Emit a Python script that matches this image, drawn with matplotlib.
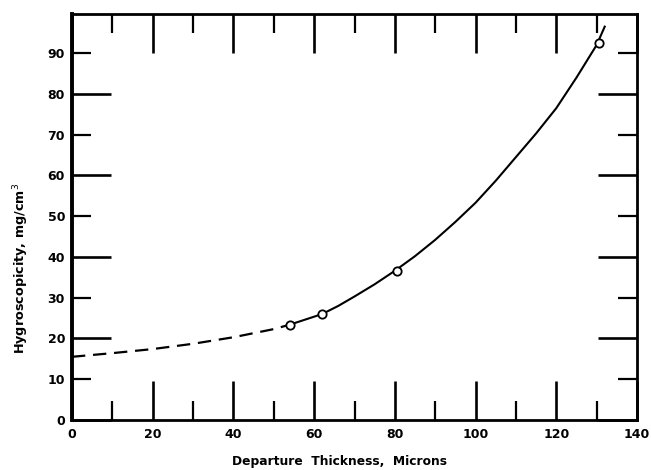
import numpy as np
import matplotlib
matplotlib.use("Agg")
import matplotlib.pyplot as plt

# measured points (open circles)
pt_x = [54, 62, 80.5, 130.5]
pt_y = [23.4, 26.0, 36.6, 92.5]

# fitted curve: dashed (extrapolated) part and solid part
dash_x = [0, 10, 20, 30, 40, 50, 54]
dash_y = [15.5, 16.4, 17.4, 18.7, 20.3, 22.3, 23.4]
solid_x = [54, 62, 66, 70, 75, 80, 85, 90, 95, 100, 105, 110, 115, 120, 125, 130, 132]
solid_y = [23.4, 26.0, 28.0, 30.3, 33.3, 36.6, 40.2, 44.2, 48.6, 53.3, 58.7, 64.5, 70.3, 76.5, 84.0, 92.0, 96.5]

x_major = [0, 20, 40, 60, 80, 100, 120, 140]
x_minor = [10, 30, 50, 70, 90, 110, 130]
y_major = [0, 20, 40, 60, 80]
y_minor = [10, 30, 50, 70, 90]

fig = plt.figure(figsize=(6.51, 4.70), dpi=100)
ax = fig.add_axes([0.1106, 0.1064, 0.8679, 0.8638])

ax.plot(dash_x, dash_y, color="black", lw=1.6, dashes=(6, 3.5))
ax.plot(solid_x, solid_y, color="black", lw=1.5)
ax.plot(pt_x, pt_y, "o", ms=6, mfc="white", mec="black", mew=1.3)

ax.set_xlim(0, 140)
ax.set_ylim(0, 99.6)

ax.set_xticks(x_major)
ax.set_xticks(x_minor, minor=True)
ax.set_yticks(y_major)
ax.set_yticks(y_minor, [str(v) for v in y_minor], minor=True)

for t in ax.get_xticklabels() + ax.get_yticklabels(which="both"):
    t.set_fontsize(9)
    t.set_fontweight("bold")

ax.tick_params(which="both", direction="in", top=True, right=True, color="black")
ax.tick_params(which="major", length=28, width=1.9)
ax.tick_params(which="minor", length=14, width=1.6)
ax.tick_params(axis="x", which="both", pad=6)
ax.tick_params(axis="y", which="both", pad=5)

for s in ax.spines.values():
    s.set_linewidth(2.0)
ax.spines["left"].set_linewidth(2.8)

ax.set_xlabel("Departure  Thickness,  Microns", fontsize=8.8, fontweight="bold")
ax.set_ylabel("Hygroscopicity, mg/cm$^3$", fontsize=9.2, fontweight="bold")
ax.xaxis.set_label_coords(0.474, -0.086)
ax.yaxis.set_label_coords(-0.072, 0.374)

fig.savefig("out.png", dpi=100)
